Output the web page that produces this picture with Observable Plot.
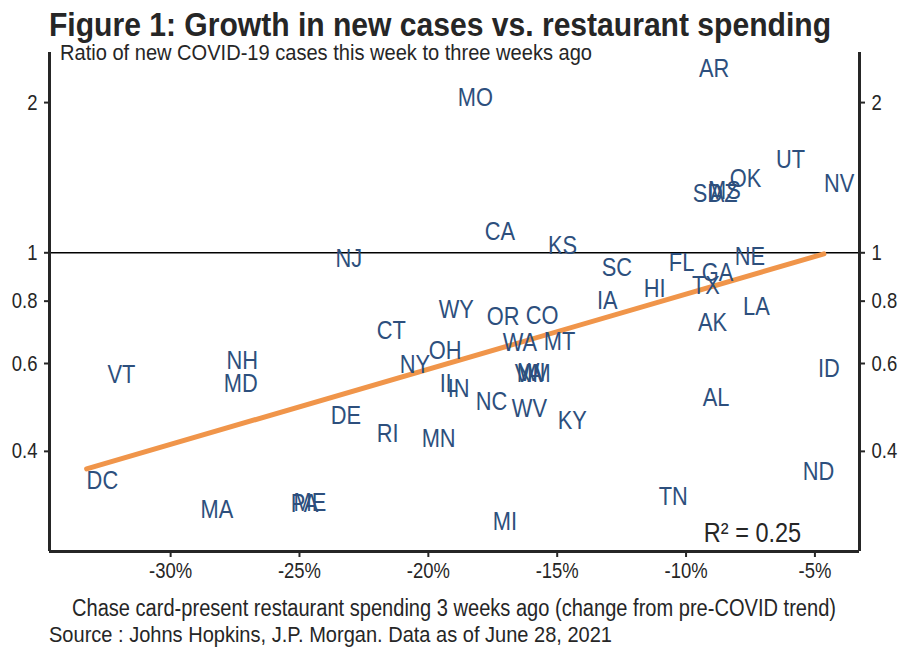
<!DOCTYPE html>
<html>
<head>
<meta charset="utf-8">
<script src="https://cdn.jsdelivr.net/npm/d3@7"></script>
<script src="https://cdn.jsdelivr.net/npm/@observablehq/plot@0.6"></script>
<style>
  html, body { margin: 0; padding: 0; background: #fff; }
  body { font-family: "Liberation Sans", Arial, sans-serif; color: #262626; }
  #wrap { position: relative; width: 907px; height: 656px; overflow: hidden; }
  .txt { position: absolute; white-space: nowrap; color: #262626; transform-origin: 0 0; }
  #title { left: 49px; top: 7px; font-size: 34px; line-height: 34px; font-weight: bold; }
  #subtitle { left: 60px; top: 42px; font-size: 22px; line-height: 22px; z-index: 2; }
  #chart { position: absolute; left: 0; top: 44px; }
  #xlabel { left: 72px; top: 597px; font-size: 23px; line-height: 23px; }
  #source { left: 49px; top: 624px; font-size: 22px; line-height: 22px; }
</style>
</head>
<body>
<div id="wrap">
  <div id="title" class="txt">Figure 1: Growth in new cases vs. restaurant spending</div>
  <div id="chart"></div>
  <div id="subtitle" class="txt">Ratio of new COVID-19 cases this week to three weeks ago</div>
  <div id="xlabel" class="txt">Chase card-present restaurant spending 3 weeks ago (change from pre-COVID trend)</div>
  <div id="source" class="txt">Source : Johns Hopkins, J.P. Morgan. Data as of June 28, 2021</div>
</div>
<script>
// State labels: spending change (%) and case-growth ratio
const states = ["NJ","AR","MO","UT","OK","NV","SD","AZ","MS","CA","KS","SC","FL","GA","NE","HI","TX","IA","LA","AK","OR","CO","WA","MT","NM","VA","WI","NC","WV","KY","AL","ID","ND","TN","MI","VT","NH","MD","DC","MA","PA","ME","DE","RI","MN","CT","NY","OH","WY","IL","IN"];
const spending = [-23.60,-9.50,-18.86,-6.51,-8.30,-4.65,-9.74,-9.08,-9.15,-17.81,-15.36,-13.27,-10.67,-9.39,-8.11,-11.64,-9.77,-13.46,-7.79,-9.54,-17.73,-16.22,-17.11,-15.52,-16.57,-16.65,-16.49,-18.16,-16.76,-14.98,-9.35,-4.88,-5.47,-11.06,-17.50,-32.45,-27.83,-27.94,-33.26,-28.84,-25.34,-25.23,-23.79,-22.00,-20.26,-22.00,-21.11,-19.98,-19.60,-19.56,-19.25];
const ratio = [0.974,2.342,2.048,1.538,1.409,1.377,1.315,1.315,1.333,1.103,1.034,0.934,0.956,0.913,0.983,0.848,0.860,0.802,0.780,0.725,0.745,0.749,0.661,0.664,0.573,0.573,0.575,0.503,0.487,0.461,0.513,0.586,0.364,0.325,0.289,0.570,0.608,0.547,0.350,0.306,0.314,0.316,0.472,0.434,0.424,0.699,0.597,0.637,0.770,0.547,0.534];

// Fitted trend (log ratio vs spending)
const trendX = [-33.26, -4.65];
const trendY = [0.369, 0.995];

// Axes
const xDomain = [-34.7, -3.27];
const yDomain = [0.252, 2.52];
const xTicks = [-30, -25, -20, -15, -10, -5];
const yTicks = [0.4, 0.6, 0.8, 1, 2];

// Annotation
const r2Label = ["R² = 0.25"];
const r2X = [-9.31];
const r2Y = [0.275];

const labels = states.map((s, i) => ({state: s, x: spending[i], y: ratio[i]}));
const trend = trendX.map((x, i) => ({x, y: trendY[i]}));
const r2 = r2Label.map((t, i) => ({t, x: r2X[i], y: r2Y[i]}));

const font = '"Liberation Sans", Arial, sans-serif';
const ink = "#262626";

const chart = Plot.plot({
  width: 907,
  height: 545,
  marginTop: 8,
  marginLeft: 49,
  marginRight: 48,
  marginBottom: 38,
  style: {fontFamily: font, fontSize: "22px", color: ink, background: "transparent", overflow: "visible"},
  x: {domain: xDomain},
  y: {type: "log", domain: yDomain},
  marks: [
    Plot.ruleY([1], {stroke: "#000", strokeWidth: 1.5}),
    Plot.line(trend, {x: "x", y: "y", stroke: "#f0954a", strokeWidth: 5}),
    Plot.text(labels, {x: "x", y: "y", text: "state", textAnchor: "start", fill: "#2d4f7d", fontSize: 26}),
    Plot.text(r2, {x: "x", y: "y", text: "t", textAnchor: "start", fill: ink, fontSize: 28}),
    Plot.axisX({ticks: xTicks, tickFormat: d => `${d}%`, tickSize: 6, tickPadding: 5, stroke: ink, strokeWidth: 2, label: null, fontSize: 22, fill: ink}),
    Plot.axisY({anchor: "left", ticks: yTicks, tickFormat: d => String(d), tickSize: 5, tickPadding: 7, stroke: ink, strokeWidth: 2, label: null, fontSize: 22, fill: ink}),
    Plot.axisY({anchor: "right", ticks: yTicks, tickFormat: d => String(d), tickSize: 5, tickPadding: 7, stroke: ink, strokeWidth: 2, label: null, fontSize: 22, fill: ink}),
    Plot.ruleX([xDomain[0], xDomain[1]], {stroke: ink, strokeWidth: 3}),
    Plot.ruleY([yDomain[0]], {stroke: ink, strokeWidth: 3})
  ]
});
document.getElementById("chart").appendChild(chart);

// Narrow the SVG texts horizontally around their anchor (Arial Narrow look)
const narrow = 0.84;
chart.querySelectorAll("text").forEach(t => {
  const x = parseFloat(t.getAttribute("x") || "0");
  const prev = t.getAttribute("transform") || "";
  t.setAttribute("transform", `${prev} translate(${x},0) scale(${narrow},1) translate(${-x},0)`.trim());
});

// Narrow the HTML texts to the reference widths
const targetWidths = {title: 782, subtitle: 532, xlabel: 764, source: 563};
for (const [id, w] of Object.entries(targetWidths)) {
  const el = document.getElementById(id);
  const natural = el.getBoundingClientRect().width;
  el.style.transform = `scaleX(${w / natural})`;
}
</script>
</body>
</html>
